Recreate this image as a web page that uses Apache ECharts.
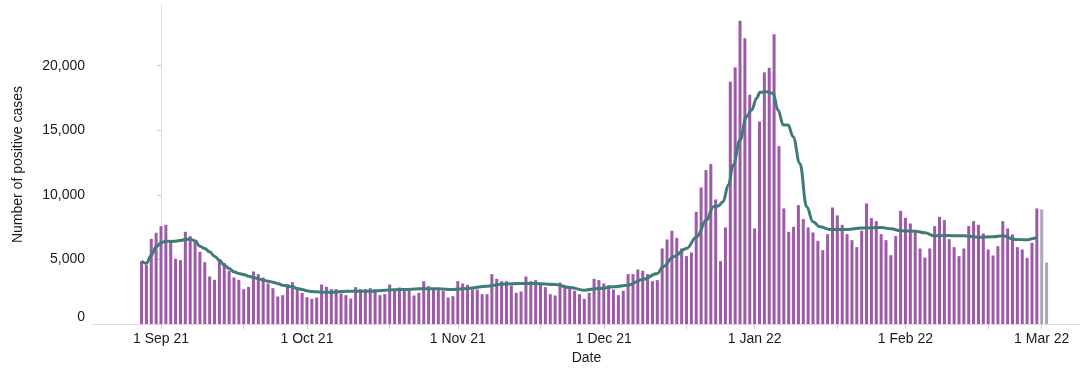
<!DOCTYPE html>
<html>
<head>
<meta charset="utf-8">
<script src="https://cdn.jsdelivr.net/npm/echarts@6/dist/echarts.min.js"></script>
<style>
html,body{margin:0;padding:0;background:#fff;}
#c{width:1080px;height:372px;}
</style>
</head>
<body>
<div id="c"></div>
<script>
// Day index 0 = 1 Sep 2021
const firstDay = -4; // 28 Aug 2021
// Daily positive cases (complete data), 28 Aug 2021 .. 28 Feb 2022
const cases = [
4866,4556,6597,7062,7578,7682,6313,5047,4944,7139,
6804,6494,5590,4789,3678,3420,4995,4737,4117,3601,
3420,2697,2878,4066,3859,3601,3136,2774,2128,2232,
3084,3239,2826,2413,2077,1948,2051,3058,2878,2697,
2697,2361,2232,1973,2852,2697,2697,2774,2671,2232,
2309,3058,2671,2826,2671,2568,2206,2412,3317,2929,
2671,2619,2568,2051,2154,3317,3136,3032,2671,2671,
2309,2309,3859,3497,3317,3317,2981,2412,2516,3678,
3317,3394,3058,2852,2309,2206,3213,2877,2748,2568,
2309,1948,2412,3497,3394,3138,3009,2673,2234,2570,
3861,3861,4223,4120,3861,3319,3396,5850,6545,7217,
6675,5850,5256,5540,8691,10576,11919,12384,9646,4869,
7476,18760,19871,23489,22120,17753,7398,15667,19483,19845,
22429,13771,8949,7140,7527,9207,8122,7476,7088,6442,
5718,6958,9024,8404,7681,6958,6493,5951,7216,9334,
8197,7965,6958,6493,5331,6803,8765,8223,7784,7087,
5847,5150,5847,7578,8301,8043,6571,5951,5253,5847,
7578,7965,7681,7010,5770,5305,6028,7965,7397,6932,
5951,5770,5124,6287,8946
];
// Provisional (incomplete) days: 1 Mar 2022, 2 Mar 2022
const provisionalDays = [181, 182];
const provisional = [8869, 4764];

// 7-day average line (day index, value)
const avgDays = [-4,-3,-2,-1,0,1,2,3,4,5,6,7,8,9,10,11,12,13,14,15,16,17,18,19,20,21,22,23,24,25,26,27,28,29,30,31,32,33,35,38,43,46,50,53,57,60,63,67,70,74,77,81,84,87,90,93,96,99,102,103.2,105.3,108,110.1,112.1,113.5,114.5,115.5,116.6,117.6,119,120.3,121.4,122.4,123.1,124.4,125.8,126.8,127.9,128.9,129.9,131.3,132.7,134,135.4,137.5,141,144,148,150,152,155,157,159,161,165,168,171,173,175.5,178,179,180];
const avgValues = [4866,4686,5330,5977,6287,6416,6390,6416,6468,6545,6571,6442,6029,5848,5590,5254,4944,4556,4298,4040,3911,3833,3704,3600,3497,3394,3317,3239,3136,3007,2929,2877,2748,2670,2567,2516,2490,2464,2464,2541,2541,2619,2671,2722,2722,2671,2748,2929,3084,3136,3136,3058,2826,2619,2748,2877,3007,3446,3911,4427,5202,5848,6752,8043,9077,9129,9464,10756,12306,14243,16051,16568,17472,17937,17988,17859,16568,15405,15405,14501,12435,9077,7915,7527,7320,7320,7426,7475,7372,7217,7191,7062,6830,6855,6830,6726,6752,6830,6546,6520,6597,6700];

// Axis ticks
const tickDays = [0,17,30,47,61,78,91,108,122,139,153,170,181];
const labelDays = [0,30,61,91,122,153,181];
const labelTexts = ['1 Sep 21','1 Oct 21','1 Nov 21','1 Dec 21','1 Jan 22','1 Feb 22','1 Mar 22'];
const yTicks = [0,5000,10000,15000,20000];

const barData = cases.map((v,i)=>[firstDay+i, v]);
const provData = provisional.map((v,i)=>[provisionalDays[i], v]);
const lineData = avgValues.map((v,i)=>[avgDays[i], v]);

const FONT = '"Liberation Sans", Arial, sans-serif';
const TXT = '#1a1a1a';
const fmt = v => String(v).replace(/\B(?=(\d{3})+(?!\d))/g, ',');

const chart = echarts.init(document.getElementById('c'), null, {renderer:'canvas'});
chart.setOption({
  animation:false,
  backgroundColor:'#fff',
  grid:{left:93, right:0, top:5, bottom:48, containLabel:false, outerBoundsMode:'none'},
  xAxis:{
    type:'value', min:-13.975, max:188.87,
    name:'Date', nameLocation:'middle', nameGap:23,
    nameTextStyle:{color:TXT, fontSize:14, fontFamily:FONT},
    axisLine:{show:true, lineStyle:{color:'#dddddd', width:1}},
    axisTick:{show:true, length:5, lineStyle:{color:'#cccccc'}, customValues:tickDays},
    axisLabel:{show:true, margin:8, color:TXT, fontSize:14, fontFamily:FONT,
      customValues:labelDays,
      formatter:v=>{const i=labelDays.indexOf(Math.round(v)); return i>=0?labelTexts[i]:'';}},
    splitLine:{show:false}
  },
  yAxis:{
    type:'value', min:0, max:24700, interval:5000,
    name:'Number of positive cases', nameLocation:'middle', nameGap:68,
    nameTextStyle:{color:TXT, fontSize:14, fontFamily:FONT},
    axisLine:{show:true, lineStyle:{color:'#dddddd', width:1}},
    axisTick:{show:true, length:4, lineStyle:{color:'#cccccc'}, customValues:yTicks},
    axisLabel:{show:true, margin:8, color:TXT, fontSize:14, fontFamily:FONT,
      customValues:yTicks,
      formatter:v=> v===0 ? '{z|0}' : fmt(v),
      rich:{z:{fontSize:14, fontFamily:FONT, color:TXT, padding:[0,0,14,0]}}},
    splitLine:{show:false}
  },
  series:[
    {type:'bar', data:barData, barWidth:3, barGap:'-100%', itemStyle:{color:'#9e5aa8'}, silent:true},
    {type:'bar', data:provData, barWidth:3, barGap:'-100%', itemStyle:{color:'#aaa7b8'}, silent:true},
    {type:'line', data:lineData, smooth:0.4, smoothMonotone:'x', showSymbol:false, symbol:'none',
      lineStyle:{color:'#3e7c77', width:3}, z:5, silent:true}
  ]
});
</script>
</body>
</html>
